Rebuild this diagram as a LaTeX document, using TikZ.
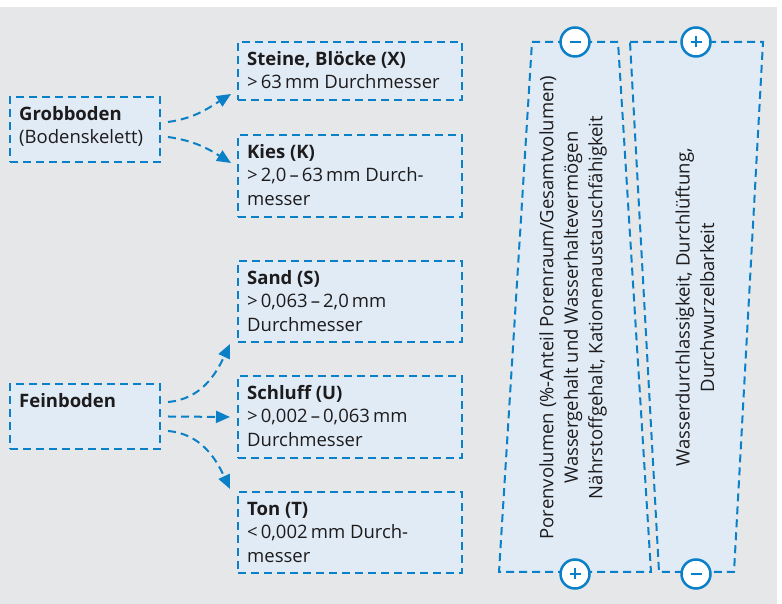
\documentclass[tikz,border=0pt]{standalone}
\usepackage{fontspec}
\setmainfont{Open Sans}
\usetikzlibrary{arrows.meta}
\definecolor{bg}{HTML}{E6E7E8}
\definecolor{bl}{HTML}{0A80C8}
\definecolor{fillb}{HTML}{E0EBF6}
\definecolor{txt}{HTML}{1E1B1C}
\newcommand{\mystrut}{\rule{0pt}{17pt}}
\begin{document}
\begin{tikzpicture}[x=1pt,y=1pt,
 box/.style={rectangle,draw=bl,fill=fillb,line width=2pt,dash pattern=on 8pt off 5pt,minimum width=224pt,inner sep=0pt},
 lbl/.style={anchor=north west,inner sep=0pt,align=left,font=\fontsize{18.5}{23.5}\selectfont,text=txt},
 rot/.style={rotate=90,inner sep=0pt,align=center,font=\fontsize{18.5}{24.5}\selectfont,text=txt},
 conn/.style={draw=bl,line width=2pt,dash pattern=on 8pt off 5pt,-{Triangle[length=14pt,width=12pt]}},
 trap/.style={draw=bl,fill=fillb,line width=2pt,dash pattern=on 8pt off 5pt},
 circ/.style={circle,draw=bl,fill=white,line width=2.5pt,minimum size=29pt,inner sep=0pt},
 sign/.style={draw=bl,line width=2.5pt}]
\useasboundingbox (0,0) rectangle (782,604);
\fill[white] (0,0) rectangle (782,604);
\fill[bg] (0,0) rectangle (777,597);

% left boxes
\node[box,minimum width=150pt,minimum height=65pt] (grob) at (85,474.5) {};
\node[lbl] (grobt) at ([xshift=10pt,yshift=-7pt]grob.north west) {\mystrut\textbf{Grobboden}\\(Bodenskelett)};
\node[box,minimum width=150pt,minimum height=65pt] (fein) at (85,187.5) {};
\node[lbl] (feint) at ([xshift=10pt,yshift=-7pt]fein.north west) {\mystrut\textbf{Feinboden}};

% right boxes
\node[box,minimum height=58pt] (steine) at (350,533) {};
\node[lbl] (steinet) at ([xshift=10pt,yshift=-7pt]steine.north west) {\mystrut\textbf{Steine, Blöcke (X)}\\>\,63\,mm Durchmesser};
\node[box,minimum height=82pt] (kies) at (350,428) {};
\node[lbl] (kiest) at ([xshift=10pt,yshift=-7pt]kies.north west) {\mystrut\textbf{Kies (K)}\\>\,2,0\,–\,63\,mm Durch-\\messer};
\node[box,minimum height=81pt] (sand) at (350,302.5) {};
\node[lbl] (sandt) at ([xshift=10pt,yshift=-7pt]sand.north west) {\mystrut\textbf{Sand (S)}\\>\,0,063\,–\,2,0\,mm\\Durchmesser};
\node[box,minimum height=82pt] (schluff) at (350,187) {};
\node[lbl] (schlufft) at ([xshift=10pt,yshift=-7pt]schluff.north west) {\mystrut\textbf{Schluff (U)}\\>\,0,002\,–\,0,063\,mm\\Durchmesser};
\node[box,minimum height=81pt] (ton) at (350,71.5) {};
\node[lbl] (tont) at ([xshift=10pt,yshift=-7pt]ton.north west) {\mystrut\textbf{Ton (T)}\\<\,0,002\,mm Durch-\\messer};

% connectors
\draw[conn] ([xshift=7pt,yshift=7.5pt]grob.east) to[out=8,in=212] ([xshift=-6pt,yshift=7pt]steine.south west);
\draw[conn] ([xshift=7pt,yshift=-7.5pt]grob.east) to[out=-8,in=148] ([xshift=-6pt,yshift=-29pt]kies.north west);
\draw[conn] ([xshift=7pt,yshift=14.5pt]fein.east) to[out=5,in=245] ([xshift=-7pt,yshift=-1pt]sand.south west);
\draw[conn] ([xshift=7pt]fein.east) -- ([xshift=-7pt]schluff.west);
\draw[conn] ([xshift=7pt,yshift=-14.5pt]fein.east) to[out=-5,in=115] ([xshift=-7pt,yshift=2pt]ton.north west);

% trapezoids
\draw[trap] (532,562) -- (618,562) -- (651,32) -- (499,32) -- cycle;
\draw[trap] (630,562) -- (763,562) -- (734,32) -- (659,32) -- cycle;

\node[rot] (t1) at (573,296.5) {Porenvolumen (\%-Anteil Porenraum/Gesamtvolumen)\\Wassergehalt und Wasserhaltevermögen\\Nährstoffgehalt, Kationenaustauschfähigkeit};
\node[rot] (t2) at (695,296.5) {Wasserdurchlassigkeit, Durchlüftung,\\Durchwurzelbarkeit};

% circles
\node[circ] (c1) at (575,562) {};
\draw[sign] ([xshift=-5.5pt]c1.center) -- ([xshift=5.5pt]c1.center);
\node[circ] (c2) at (575,30) {};
\draw[sign] ([xshift=-5.5pt]c2.center) -- ([xshift=5.5pt]c2.center);
\draw[sign] ([yshift=-5.5pt]c2.center) -- ([yshift=5.5pt]c2.center);
\node[circ] (c3) at (696,562) {};
\draw[sign] ([xshift=-5.5pt]c3.center) -- ([xshift=5.5pt]c3.center);
\draw[sign] ([yshift=-5.5pt]c3.center) -- ([yshift=5.5pt]c3.center);
\node[circ] (c4) at (696,30) {};
\draw[sign] ([xshift=-5.5pt]c4.center) -- ([xshift=5.5pt]c4.center);
\end{tikzpicture}
\end{document}
